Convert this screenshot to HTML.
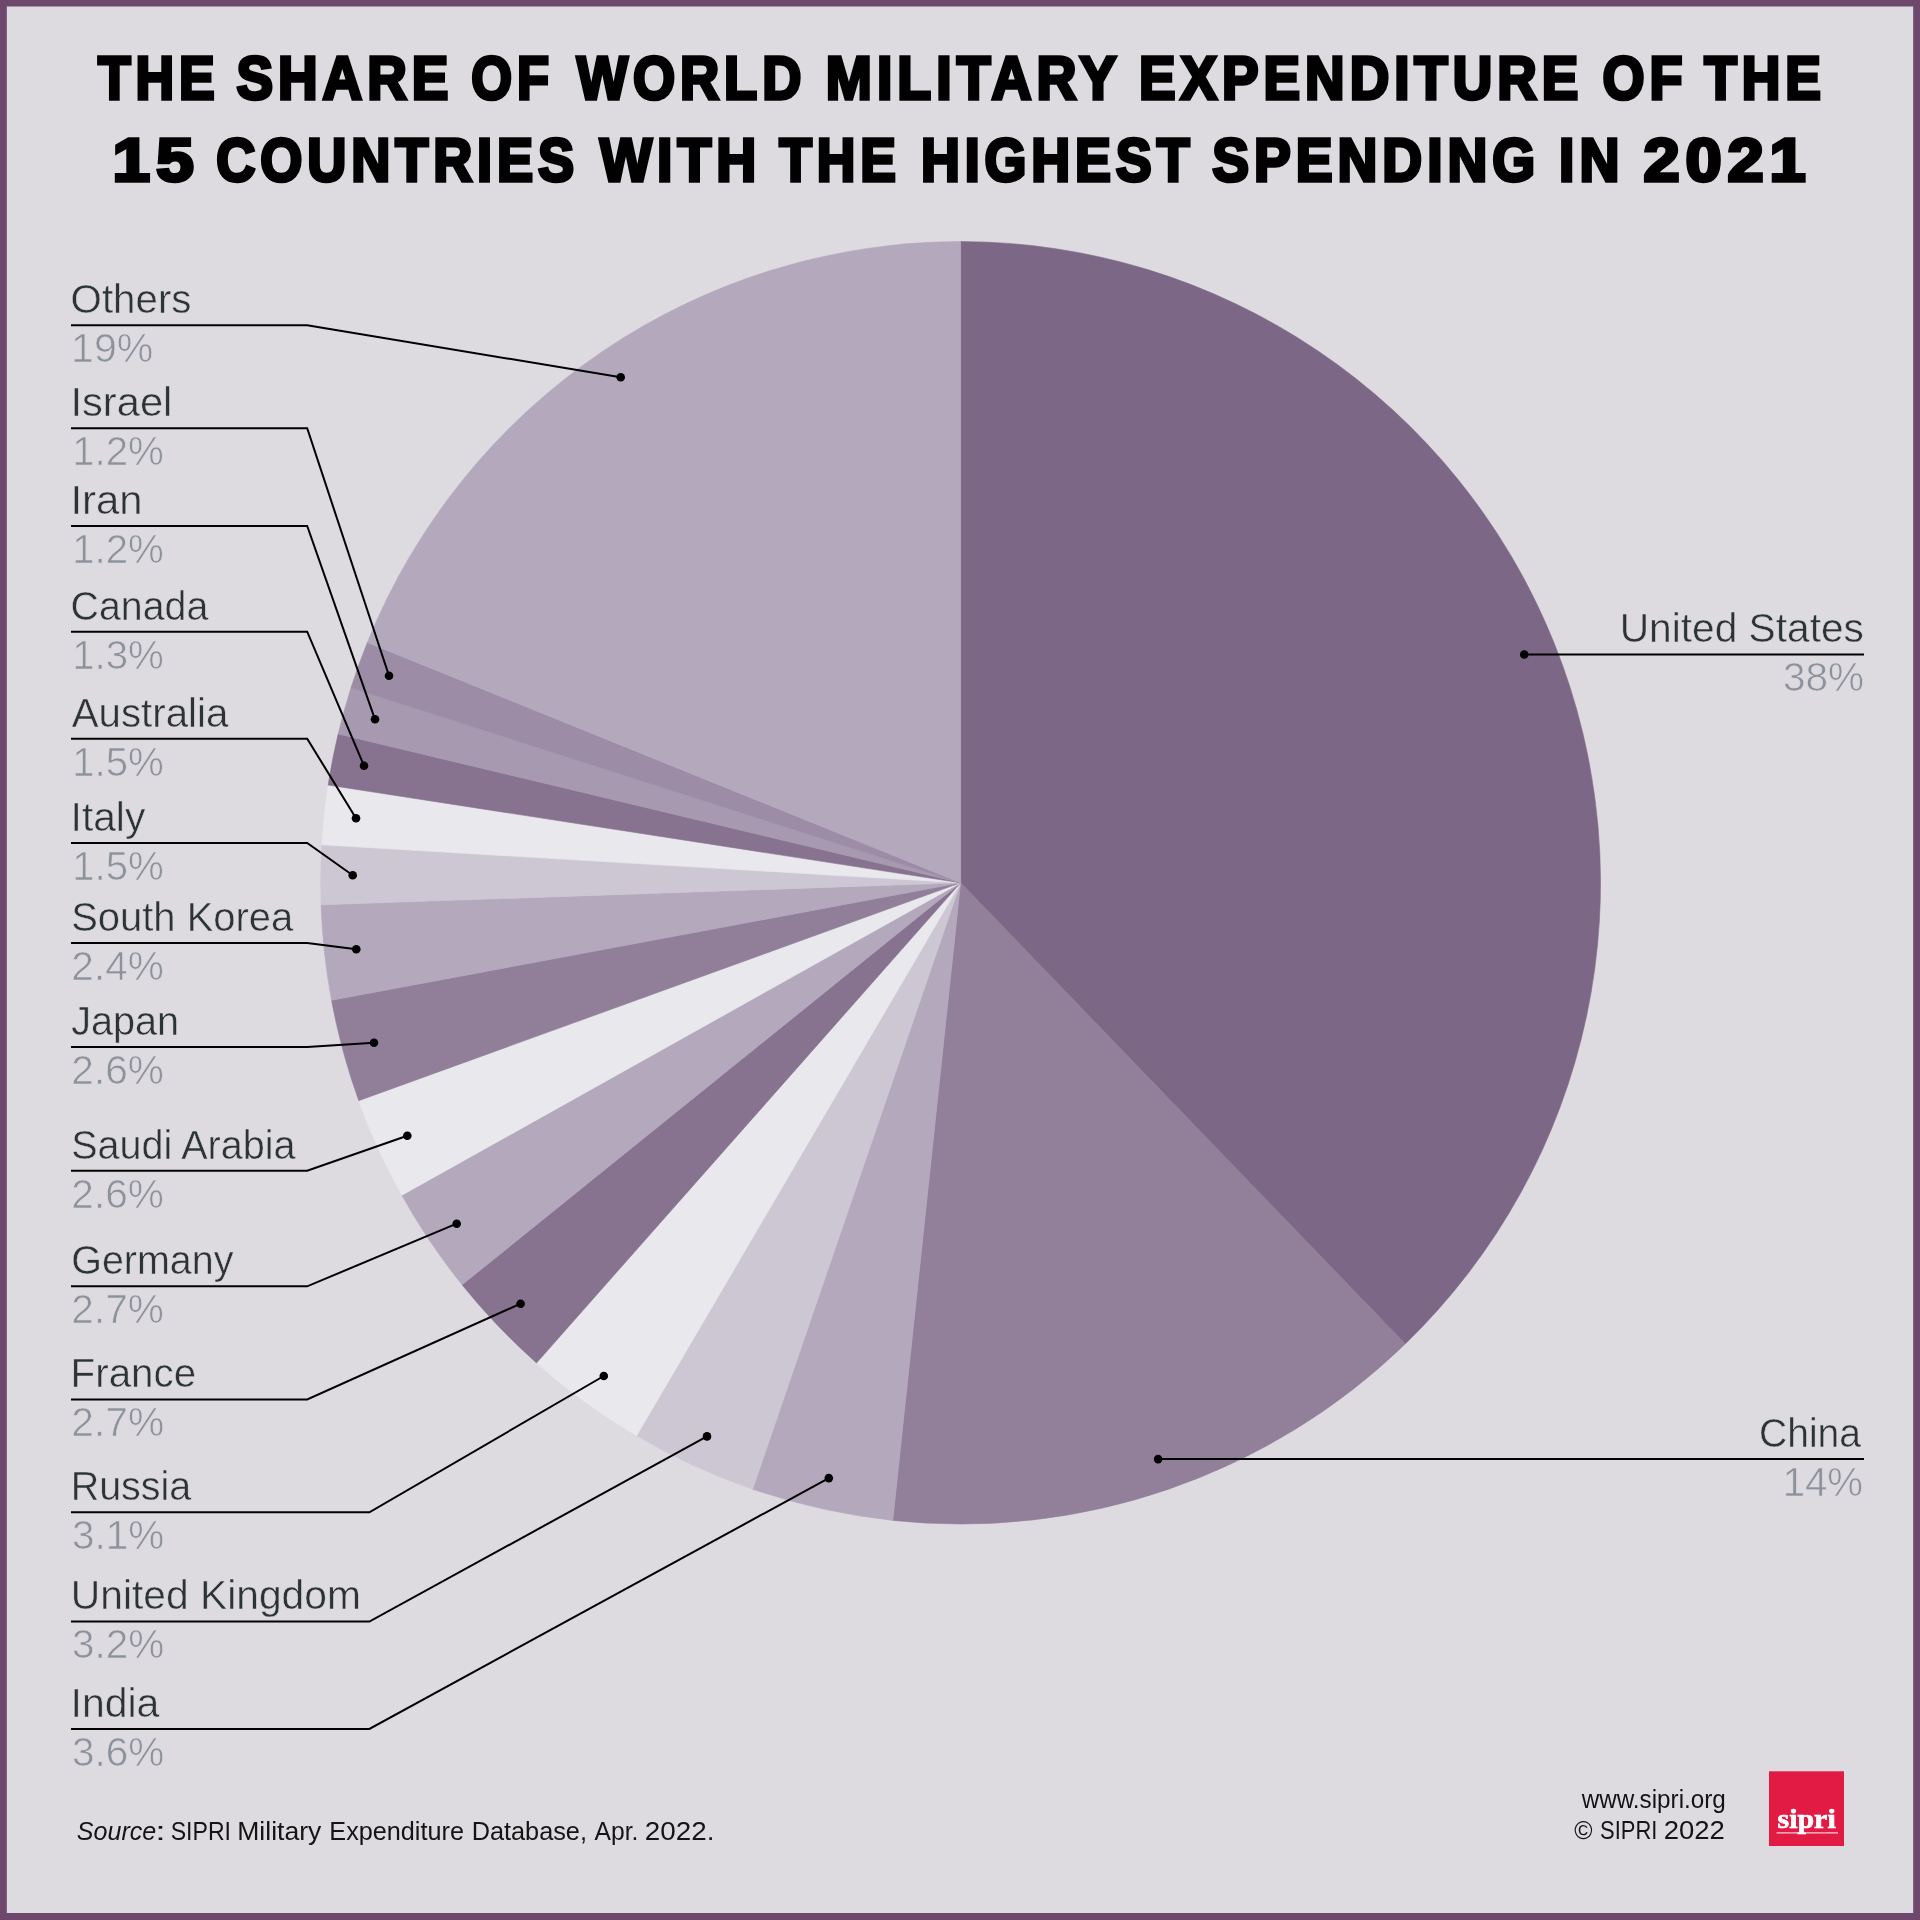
<!DOCTYPE html>
<html><head><meta charset="utf-8"><title>SIPRI military expenditure 2021</title>
<style>
html,body{margin:0;padding:0;background:#dddae0;}
body{width:1920px;height:1920px;overflow:hidden;font-family:"Liberation Sans",sans-serif;}
svg{display:block;position:absolute;left:0;top:0;}
text{font-family:"Liberation Sans",sans-serif;white-space:pre;}
</style></head><body>
<svg width="1920" height="1920" viewBox="0 0 1920 1920">
<rect x="0" y="0" width="1920" height="1920" fill="#6d486c"/>
<rect x="6.8" y="6.5" width="1906.4" height="1906.5" fill="#dddae0"/>
<g>
<path d="M960.6 882.8L960.60 241.60A639.9 641.2 0 0 1 1405.24 1343.92Z" fill="#7d6787" stroke="#7d6787" stroke-width="0.6"/>
<path d="M960.6 882.8L1405.24 1343.92A639.9 641.2 0 0 1 892.78 1520.39Z" fill="#927f9a" stroke="#927f9a" stroke-width="0.6"/>
<path d="M960.6 882.8L892.78 1520.39A639.9 641.2 0 0 1 752.63 1489.19Z" fill="#b4a8bd" stroke="#b4a8bd" stroke-width="0.6"/>
<path d="M960.6 882.8L752.63 1489.19A639.9 641.2 0 0 1 636.62 1435.74Z" fill="#cdc7d3" stroke="#cdc7d3" stroke-width="0.6"/>
<path d="M960.6 882.8L636.62 1435.74A639.9 641.2 0 0 1 536.50 1362.95Z" fill="#e9e8ec" stroke="#e9e8ec" stroke-width="0.6"/>
<path d="M960.6 882.8L536.50 1362.95A639.9 641.2 0 0 1 462.09 1284.81Z" fill="#87728f" stroke="#87728f" stroke-width="0.6"/>
<path d="M960.6 882.8L462.09 1284.81A639.9 641.2 0 0 1 401.83 1195.27Z" fill="#b3a8bc" stroke="#b3a8bc" stroke-width="0.6"/>
<path d="M960.6 882.8L401.83 1195.27A639.9 641.2 0 0 1 358.76 1100.64Z" fill="#e9e8ec" stroke="#e9e8ec" stroke-width="0.6"/>
<path d="M960.6 882.8L358.76 1100.64A639.9 641.2 0 0 1 331.53 1000.27Z" fill="#917f9a" stroke="#917f9a" stroke-width="0.6"/>
<path d="M960.6 882.8L331.53 1000.27A639.9 641.2 0 0 1 321.08 904.82Z" fill="#b4a8bd" stroke="#b4a8bd" stroke-width="0.6"/>
<path d="M960.6 882.8L321.08 904.82A639.9 641.2 0 0 1 321.83 844.78Z" fill="#cdc7d3" stroke="#cdc7d3" stroke-width="0.6"/>
<path d="M960.6 882.8L321.83 844.78A639.9 641.2 0 0 1 328.18 785.07Z" fill="#e9e8ec" stroke="#e9e8ec" stroke-width="0.6"/>
<path d="M960.6 882.8L328.18 785.07A639.9 641.2 0 0 1 338.17 733.99Z" fill="#87728f" stroke="#87728f" stroke-width="0.6"/>
<path d="M960.6 882.8L338.17 733.99A639.9 641.2 0 0 1 351.04 687.71Z" fill="#a799b0" stroke="#a799b0" stroke-width="0.6"/>
<path d="M960.6 882.8L351.04 687.71A639.9 641.2 0 0 1 367.33 642.52Z" fill="#9c8ca6" stroke="#9c8ca6" stroke-width="0.6"/>
<path d="M960.6 882.8L367.33 642.52A639.9 641.2 0 0 1 960.60 241.60Z" fill="#b4a8bd" stroke="#b4a8bd" stroke-width="0.6"/>
</g>
<g fill="none" stroke="#000" stroke-width="2" stroke-linejoin="miter">
<polyline points="71,325.3 307.2,325.3 620.7,377.3"/>
<circle cx="620.7" cy="377.3" r="4.3" fill="#000" stroke="none"/>
<polyline points="71,428.3 307.2,428.3 389,675.7"/>
<circle cx="389" cy="675.7" r="4.3" fill="#000" stroke="none"/>
<polyline points="71,526 307.2,526 375,719.3"/>
<circle cx="375" cy="719.3" r="4.3" fill="#000" stroke="none"/>
<polyline points="71,631.7 307.2,631.7 364,765.7"/>
<circle cx="364" cy="765.7" r="4.3" fill="#000" stroke="none"/>
<polyline points="71,738.7 307.2,738.7 356,818.3"/>
<circle cx="356" cy="818.3" r="4.3" fill="#000" stroke="none"/>
<polyline points="71,843 307.2,843 352.7,875.2"/>
<circle cx="352.7" cy="875.2" r="4.3" fill="#000" stroke="none"/>
<polyline points="71,943 307.2,943 356.3,949.3"/>
<circle cx="356.3" cy="949.3" r="4.3" fill="#000" stroke="none"/>
<polyline points="71,1047 307.2,1047 374,1042.7"/>
<circle cx="374" cy="1042.7" r="4.3" fill="#000" stroke="none"/>
<polyline points="71,1170.7 307.2,1170.7 407.3,1135.7"/>
<circle cx="407.3" cy="1135.7" r="4.3" fill="#000" stroke="none"/>
<polyline points="71,1286.3 307.2,1286.3 456.7,1223.7"/>
<circle cx="456.7" cy="1223.7" r="4.3" fill="#000" stroke="none"/>
<polyline points="71,1399.5 307.2,1399.5 520.6,1303.7"/>
<circle cx="520.6" cy="1303.7" r="4.3" fill="#000" stroke="none"/>
<polyline points="71,1512.3 369.4,1512.3 603.8,1376"/>
<circle cx="603.8" cy="1376" r="4.3" fill="#000" stroke="none"/>
<polyline points="71,1621.6 369.4,1621.6 707,1436.4"/>
<circle cx="707" cy="1436.4" r="4.3" fill="#000" stroke="none"/>
<polyline points="71,1728.9 369.4,1728.9 828.8,1478.1"/>
<circle cx="828.8" cy="1478.1" r="4.3" fill="#000" stroke="none"/>
<polyline points="1524.25,654.5 1864,654.5"/>
<circle cx="1524.25" cy="654.5" r="4.3" fill="#000" stroke="none"/>
<polyline points="1158.1,1459.1 1864,1459.1"/>
<circle cx="1158.1" cy="1459.1" r="4.3" fill="#000" stroke="none"/>
</g>
<rect x="1769" y="1771.3" width="75" height="74.7" fill="#e21b45"/>
<rect x="1776.5" y="1832.2" width="61.5" height="1.3" fill="#fff" fill-opacity="0.75"/>
<g opacity="0.999">
<text transform="translate(98.00 99.00) scale(0.8811 1)" font-weight="bold" font-size="60.7" fill="#000" stroke="#000" stroke-width="3.5" stroke-linejoin="miter" letter-spacing="5.5">THE</text>
<text transform="translate(236.39 99.00) scale(0.9044 1)" font-weight="bold" font-size="60.7" fill="#000" stroke="#000" stroke-width="3.5" stroke-linejoin="miter" letter-spacing="5.5">SHARE</text>
<text transform="translate(471.36 99.00) scale(0.8643 1)" font-weight="bold" font-size="60.7" fill="#000" stroke="#000" stroke-width="3.5" stroke-linejoin="miter" letter-spacing="5.5">OF</text>
<text transform="translate(576.75 99.00) scale(0.8940 1)" font-weight="bold" font-size="60.7" fill="#000" stroke="#000" stroke-width="3.5" stroke-linejoin="miter" letter-spacing="5.5">WORLD</text>
<text transform="translate(825.79 99.00) scale(0.9127 1)" font-weight="bold" font-size="60.7" fill="#000" stroke="#000" stroke-width="3.5" stroke-linejoin="miter" letter-spacing="5.5">MILITARY</text>
<text transform="translate(1139.08 99.00) scale(0.9027 1)" font-weight="bold" font-size="60.7" fill="#000" stroke="#000" stroke-width="3.5" stroke-linejoin="miter" letter-spacing="5.5">EXPENDITURE</text>
<text transform="translate(1602.56 99.00) scale(0.8905 1)" font-weight="bold" font-size="60.7" fill="#000" stroke="#000" stroke-width="3.5" stroke-linejoin="miter" letter-spacing="5.5">OF</text>
<text transform="translate(1704.25 99.00) scale(0.8811 1)" font-weight="bold" font-size="60.7" fill="#000" stroke="#000" stroke-width="3.5" stroke-linejoin="miter" letter-spacing="5.5">THE</text>
<text transform="translate(112.53 181.25) scale(1.1113 1)" font-weight="bold" font-size="60.7" fill="#000" stroke="#000" stroke-width="3.5" stroke-linejoin="miter" letter-spacing="5.5">15</text>
<text transform="translate(216.31 181.25) scale(0.8914 1)" font-weight="bold" font-size="60.7" fill="#000" stroke="#000" stroke-width="3.5" stroke-linejoin="miter" letter-spacing="5.5">COUNTRIES</text>
<text transform="translate(599.75 181.25) scale(0.9131 1)" font-weight="bold" font-size="60.7" fill="#000" stroke="#000" stroke-width="3.5" stroke-linejoin="miter" letter-spacing="5.5">WITH</text>
<text transform="translate(779.25 181.25) scale(0.8811 1)" font-weight="bold" font-size="60.7" fill="#000" stroke="#000" stroke-width="3.5" stroke-linejoin="miter" letter-spacing="5.5">THE</text>
<text transform="translate(920.88 181.25) scale(0.8874 1)" font-weight="bold" font-size="60.7" fill="#000" stroke="#000" stroke-width="3.5" stroke-linejoin="miter" letter-spacing="5.5">HIGHEST</text>
<text transform="translate(1212.14 181.25) scale(0.9088 1)" font-weight="bold" font-size="60.7" fill="#000" stroke="#000" stroke-width="3.5" stroke-linejoin="miter" letter-spacing="5.5">SPENDING</text>
<text transform="translate(1559.04 181.25) scale(0.9117 1)" font-weight="bold" font-size="60.7" fill="#000" stroke="#000" stroke-width="3.5" stroke-linejoin="miter" letter-spacing="5.5">IN</text>
<text transform="translate(1643.47 181.25) scale(1.0700 1)" font-weight="bold" font-size="60.7" fill="#000" stroke="#000" stroke-width="3.5" stroke-linejoin="miter" letter-spacing="5.5">2021</text>
<text transform="translate(70.56 313.10) scale(0.9759 1)" font-size="41.3" fill="#2b3433" stroke="#dddae0" stroke-width="0.5" stroke-linejoin="miter">Others</text>
<text transform="translate(71.08 362.10) scale(0.9943 1)" font-size="41.3" fill="#8c929b" stroke="#dddae0" stroke-width="0.7" stroke-linejoin="miter">19%</text>
<text transform="translate(70.50 416.10) scale(1.0080 1)" font-size="41.3" fill="#2b3433" stroke="#dddae0" stroke-width="0.5" stroke-linejoin="miter">Israel</text>
<text transform="translate(72.14 465.10) scale(0.9743 1)" font-size="41.3" fill="#8c929b" stroke="#dddae0" stroke-width="0.7" stroke-linejoin="miter">1.2%</text>
<text transform="translate(70.48 513.80) scale(1.0134 1)" font-size="41.3" fill="#2b3433" stroke="#dddae0" stroke-width="0.5" stroke-linejoin="miter">Iran</text>
<text transform="translate(72.14 562.80) scale(0.9743 1)" font-size="41.3" fill="#8c929b" stroke="#dddae0" stroke-width="0.7" stroke-linejoin="miter">1.2%</text>
<text transform="translate(70.61 619.50) scale(0.9518 1)" font-size="41.3" fill="#2b3433" stroke="#dddae0" stroke-width="0.5" stroke-linejoin="miter">Canada</text>
<text transform="translate(72.14 668.50) scale(0.9743 1)" font-size="41.3" fill="#8c929b" stroke="#dddae0" stroke-width="0.7" stroke-linejoin="miter">1.3%</text>
<text transform="translate(71.75 726.50) scale(0.9742 1)" font-size="41.3" fill="#2b3433" stroke="#dddae0" stroke-width="0.5" stroke-linejoin="miter">Australia</text>
<text transform="translate(72.14 775.50) scale(0.9743 1)" font-size="41.3" fill="#8c929b" stroke="#dddae0" stroke-width="0.7" stroke-linejoin="miter">1.5%</text>
<text transform="translate(70.57 830.80) scale(0.9860 1)" font-size="41.3" fill="#2b3433" stroke="#dddae0" stroke-width="0.5" stroke-linejoin="miter">Italy</text>
<text transform="translate(72.14 879.80) scale(0.9743 1)" font-size="41.3" fill="#8c929b" stroke="#dddae0" stroke-width="0.7" stroke-linejoin="miter">1.5%</text>
<text transform="translate(71.20 930.80) scale(0.9673 1)" font-size="41.3" fill="#2b3433" stroke="#dddae0" stroke-width="0.5" stroke-linejoin="miter">South Korea</text>
<text transform="translate(71.35 979.80) scale(0.9828 1)" font-size="41.3" fill="#8c929b" stroke="#dddae0" stroke-width="0.7" stroke-linejoin="miter">2.4%</text>
<text transform="translate(71.13 1034.80) scale(0.9602 1)" font-size="41.3" fill="#2b3433" stroke="#dddae0" stroke-width="0.5" stroke-linejoin="miter">Japan</text>
<text transform="translate(71.35 1083.80) scale(0.9828 1)" font-size="41.3" fill="#8c929b" stroke="#dddae0" stroke-width="0.7" stroke-linejoin="miter">2.6%</text>
<text transform="translate(71.21 1158.50) scale(0.9577 1)" font-size="41.3" fill="#2b3433" stroke="#dddae0" stroke-width="0.5" stroke-linejoin="miter">Saudi Arabia</text>
<text transform="translate(71.35 1207.50) scale(0.9828 1)" font-size="41.3" fill="#8c929b" stroke="#dddae0" stroke-width="0.7" stroke-linejoin="miter">2.6%</text>
<text transform="translate(71.20 1274.10) scale(0.9559 1)" font-size="41.3" fill="#2b3433" stroke="#dddae0" stroke-width="0.5" stroke-linejoin="miter">Germany</text>
<text transform="translate(71.35 1323.10) scale(0.9828 1)" font-size="41.3" fill="#8c929b" stroke="#dddae0" stroke-width="0.7" stroke-linejoin="miter">2.7%</text>
<text transform="translate(70.60 1387.30) scale(0.9770 1)" font-size="41.3" fill="#2b3433" stroke="#dddae0" stroke-width="0.5" stroke-linejoin="miter">France</text>
<text transform="translate(71.34 1436.30) scale(0.9872 1)" font-size="41.3" fill="#8c929b" stroke="#dddae0" stroke-width="0.7" stroke-linejoin="miter">2.7%</text>
<text transform="translate(70.67 1500.10) scale(0.9556 1)" font-size="41.3" fill="#2b3433" stroke="#dddae0" stroke-width="0.5" stroke-linejoin="miter">Russia</text>
<text transform="translate(71.98 1549.10) scale(0.9802 1)" font-size="41.3" fill="#8c929b" stroke="#dddae0" stroke-width="0.7" stroke-linejoin="miter">3.1%</text>
<text transform="translate(70.80 1609.40) scale(0.9874 1)" font-size="41.3" fill="#2b3433" stroke="#dddae0" stroke-width="0.5" stroke-linejoin="miter">United Kingdom</text>
<text transform="translate(71.98 1658.40) scale(0.9802 1)" font-size="41.3" fill="#8c929b" stroke="#dddae0" stroke-width="0.7" stroke-linejoin="miter">3.2%</text>
<text transform="translate(70.55 1716.70) scale(0.9920 1)" font-size="41.3" fill="#2b3433" stroke="#dddae0" stroke-width="0.5" stroke-linejoin="miter">India</text>
<text transform="translate(71.98 1765.70) scale(0.9802 1)" font-size="41.3" fill="#8c929b" stroke="#dddae0" stroke-width="0.7" stroke-linejoin="miter">3.6%</text>
<text transform="translate(1619.71 642.30) scale(0.9854 1)" font-size="41.3" fill="#2b3433" stroke="#dddae0" stroke-width="0.5" stroke-linejoin="miter">United States</text>
<text transform="translate(1782.88 691.30) scale(0.9820 1)" font-size="41.3" fill="#8c929b" stroke="#dddae0" stroke-width="0.7" stroke-linejoin="miter">38%</text>
<text transform="translate(1759.02 1446.90) scale(0.9451 1)" font-size="41.3" fill="#2b3433" stroke="#dddae0" stroke-width="0.5" stroke-linejoin="miter">China</text>
<text transform="translate(1782.64 1495.90) scale(0.9727 1)" font-size="41.3" fill="#8c929b" stroke="#dddae0" stroke-width="0.7" stroke-linejoin="miter">14%</text>
<text transform="translate(76.81 1839.90) scale(0.9907 1)" font-size="25.3" font-style="italic" fill="#141414">Source</text>
<text transform="translate(155.27 1839.90) scale(1.4816 1)" font-size="25.3" fill="#141414">:</text>
<text transform="translate(170.68 1839.90) scale(0.9142 1)" font-size="25.3" fill="#141414">SIPRI</text>
<text transform="translate(237.23 1839.90) scale(1.0495 1)" font-size="25.3" fill="#141414">Military</text>
<text transform="translate(329.33 1839.90) scale(0.9976 1)" font-size="25.3" fill="#141414">Expenditure</text>
<text transform="translate(471.72 1839.90) scale(0.9994 1)" font-size="25.3" fill="#141414">Database,</text>
<text transform="translate(594.50 1839.90) scale(0.9738 1)" font-size="25.3" fill="#141414">Apr.</text>
<text transform="translate(644.80 1839.90) scale(1.0996 1)" font-size="25.3" fill="#141414">2022.</text>
<text transform="translate(1581.68 1808.00) scale(0.9585 1)" font-size="25.3" fill="#141414">www.sipri.org</text>
<text transform="translate(1574.30 1838.80) scale(0.9796 1)" font-size="25.3" fill="#141414">©</text>
<text transform="translate(1600.11 1838.80) scale(0.8682 1)" font-size="25.3" fill="#141414">SIPRI</text>
<text transform="translate(1663.71 1838.80) scale(1.0875 1)" font-size="25.3" fill="#141414">2022</text>
<text transform="translate(1777.58 1827.50) scale(1.1153 1)" font-weight="bold" font-size="26.8" font-family="Liberation Serif" style="font-family:'Liberation Serif',serif" fill="#fff" stroke="#fff" stroke-width="0.7" stroke-linejoin="miter">sipri</text>
</g>
</svg>
</body></html>
